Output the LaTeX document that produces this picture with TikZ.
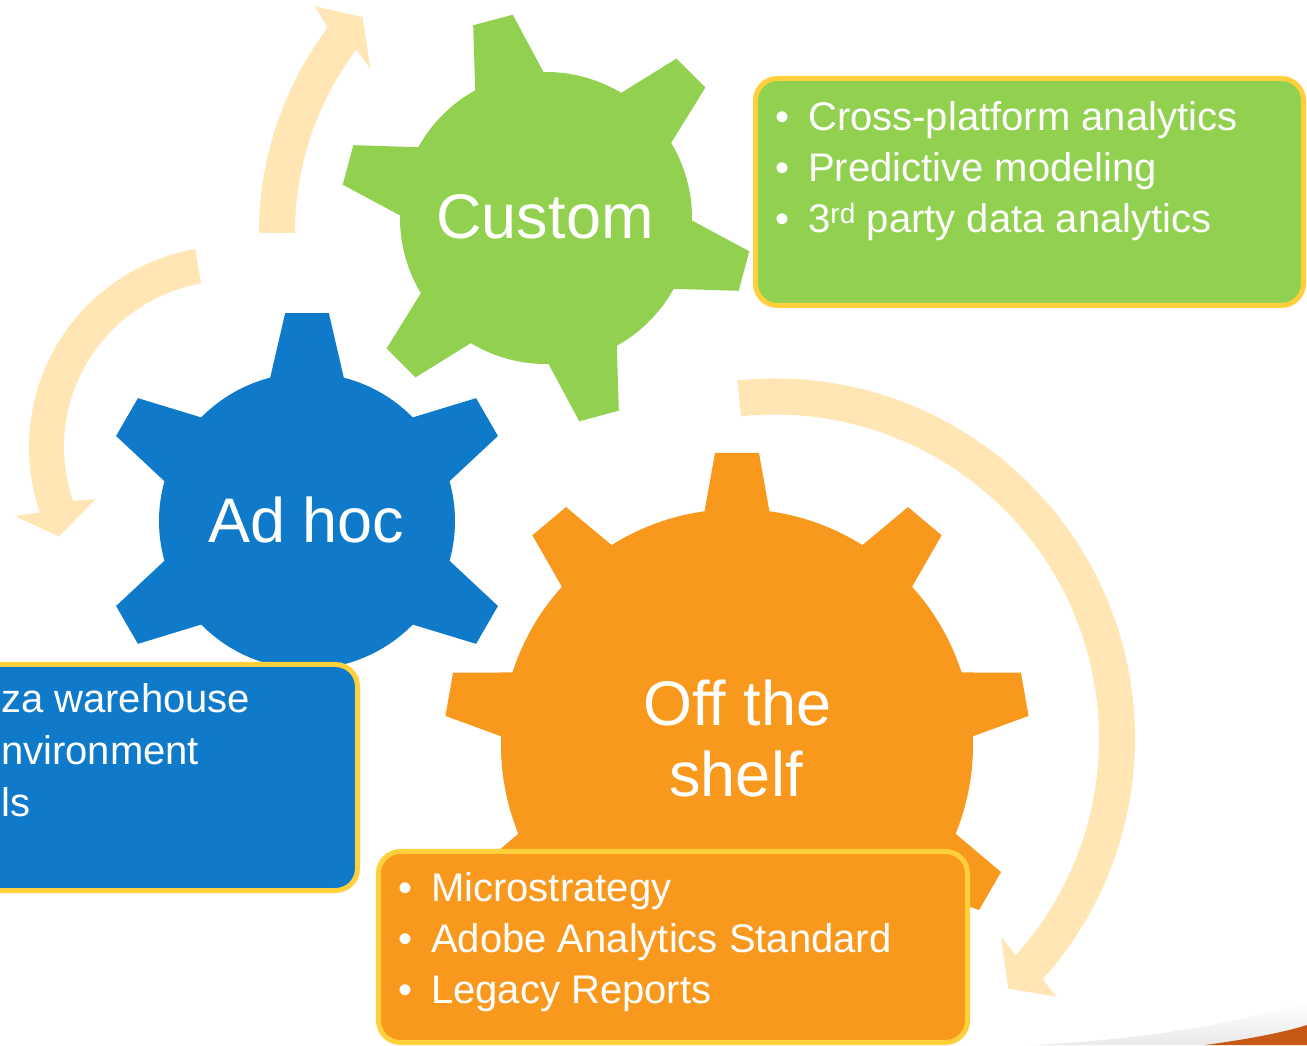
\documentclass[tikz,border=0pt]{standalone}
\usepackage{fontspec}
\setmainfont{Liberation Sans}
\definecolor{gGreen}{HTML}{92D050}
\definecolor{gBlue}{HTML}{0E7AC9}
\definecolor{gOrange}{HTML}{F8991D}
\definecolor{bYellow}{HTML}{FFD03C}
\definecolor{aPeach}{HTML}{FFE6B4}
\definecolor{swGray}{HTML}{E9E9E9}
\definecolor{swOrange}{HTML}{C65A14}
% #1 cx, #2 cy, #3 teeth, #4 first tooth angle, #5 body radius, #6 tip radius,
% #7 base half-angle, #8 tip half-angle, #9 colour
\newcommand\drawgear[9]{%
  \begin{scope}[shift={(#1,#2)}]
    \fill[#9] ({#4-#7}:#5pt) \foreach \k in {1,...,#3} {
      -- ({#4+(\k-1)*360/#3-#8}:#6pt) -- ({#4+(\k-1)*360/#3+#8}:#6pt)
      -- ({#4+(\k-1)*360/#3+#7}:#5pt)
      arc[start angle={#4+(\k-1)*360/#3+#7}, end angle={#4+\k*360/#3-#7}, radius=#5pt]
    } -- cycle;
  \end{scope}}
\tikzset{
  infobox/.style={draw=bYellow, line width=5pt, rounded corners=22pt, inner sep=0pt, anchor=north west},
  gearlabel/.style={anchor=base, text=white, inner sep=0pt, font=\fontsize{63}{63}\selectfont},
  bullettext/.style={anchor=base west, text=white, inner sep=0pt, font=\fontsize{40}{40}\selectfont},
  peach/.style={fill=aPeach}
}
\newcommand\bul{\textbullet\hspace{19pt}}
\begin{document}
\begin{tikzpicture}[x=1pt, y=1pt]
  \useasboundingbox (0,0) rectangle (1307,1045);
  \clip (0,0) rectangle (1307,1045);
  \fill[white] (0,0) rectangle (1307,1045);

  % decorative swoosh, bottom right
  \shade[top color=white, bottom color=swGray] (1030,0) .. controls (1150,5) and (1250,25) .. (1307,43) -- (1307,0) -- cycle;
  \fill[swOrange] (1205,0) .. controls (1250,6) and (1285,13) .. (1307,20) -- (1307,0) -- cycle;

  % curved arrows
  \begin{scope}[shift={(600,812)}]
    \path[peach] (180:341pt) arc[start angle=180, end angle=143, radius=341pt]
      -- (141.5:364pt) -- (137.7:321pt) -- (144.5:282pt) -- (143:305pt)
      arc[start angle=143, end angle=180, radius=305pt] -- cycle;
  \end{scope}
  \begin{scope}[shift={(230,598)}]
    \path[peach] (100:201pt) arc[start angle=100, end angle=199, radius=201pt]
      -- (197.8:226pt) -- (207.6:193pt) -- (201.2:144pt) -- (199:166pt)
      arc[start angle=199, end angle=100, radius=166pt] -- cycle;
  \end{scope}
  \begin{scope}[shift={(775,306.5)}]
    \path[peach] (96:360pt) arc[start angle=96, end angle=-42, radius=360pt]
      -- (-42.5:382pt) -- (-47:342pt) -- (-41.3:301pt) -- (-42:324pt)
      arc[start angle=-42, end angle=96, radius=324pt] -- cycle;
  \end{scope}

  % gears
  \drawgear{546}{827}{6}{45}{146}{206}{14}{5.7}{gGreen}
  \drawgear{307}{524}{6}{30}{148}{209}{14.4}{6}{gBlue}
  \drawgear{737}{300}{9}{90}{236}{293}{7.9}{4.3}{gOrange}

  \node[gearlabel] (custom) at (545,806) {Custom};
  \node[gearlabel] (adhoc) at (306.5,502) {Ad hoc};
  \node[gearlabel] (offthe) at (737.5,319) {Off the};
  \node[gearlabel] (shelf) at (736,248) {shelf};

  % info boxes
  \node[infobox, fill=gGreen, minimum width=548pt, minimum height=227pt] (greenbox) at (753,969) {};
  \node[infobox, fill=gBlue, minimum width=385pt, minimum height=226pt] (bluebox) at (-30,383) {};
  \node[infobox, fill=gOrange, minimum width=589pt, minimum height=191pt] (orangebox) at (376,196) {};

  \node[bullettext] (g1) at (775,914) {\bul Cross-platform analytics};
  \node[bullettext] (g2) at (775,863) {\bul Predictive modeling};
  \node[bullettext] (g3) at (775,812) {\bul 3\textsuperscript{rd} party data analytics};

  \node[bullettext] (b1) at (1,332) {za warehouse};
  \node[bullettext] (b2) at (1,280) {nvironment};
  \node[bullettext] (b3) at (1,228) {ls};

  \node[bullettext] (o1) at (398,143) {\bul Microstrategy};
  \node[bullettext] (o2) at (398,93) {\bul Adobe Analytics Standard};
  \node[bullettext] (o3) at (398,42) {\bul Legacy Reports};
\end{tikzpicture}
\end{document}
